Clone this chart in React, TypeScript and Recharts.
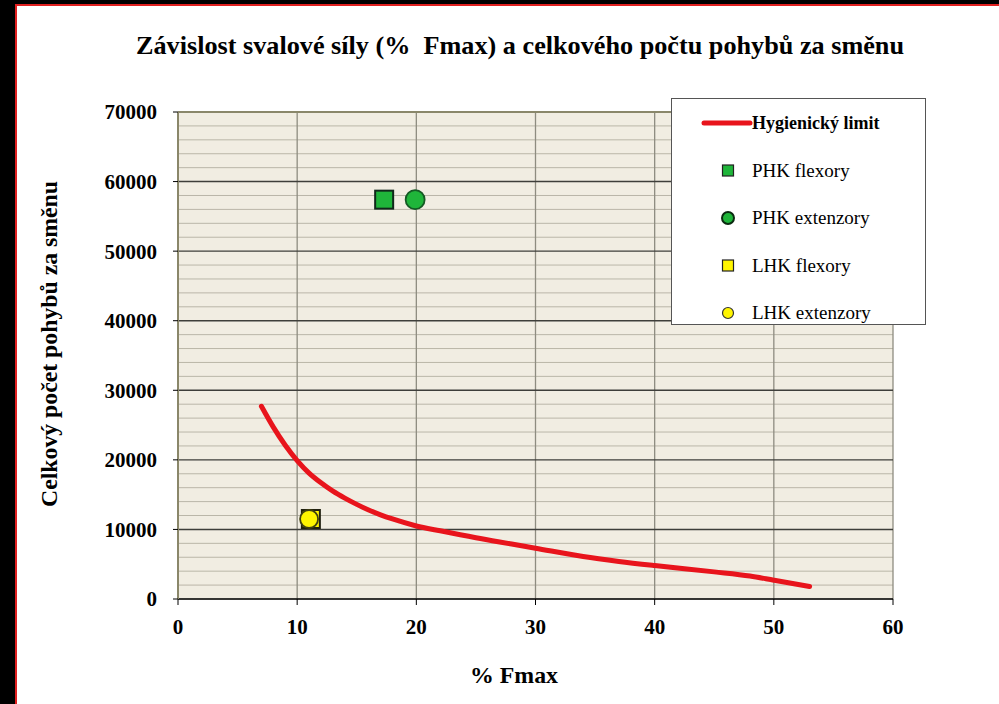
import React from "react";
import {
  ComposedChart,
  Line,
  Scatter,
  XAxis,
  YAxis,
  CartesianGrid,
  ReferenceLine,
} from "recharts";

const chartTitle = "Závislost svalové síly (%  Fmax) a celkového počtu pohybů za směnu";
const xAxisTitle = "% Fmax";
const yAxisTitle = "Celkový počet pohybů za směnu";

const xTicks = [0, 10, 20, 30, 40, 50, 60];
const yTicks = [0, 10000, 20000, 30000, 40000, 50000, 60000, 70000];
const yMinorTicks = [
  2000, 4000, 6000, 8000, 12000, 14000, 16000, 18000, 22000, 24000, 26000, 28000,
  32000, 34000, 36000, 38000, 42000, 44000, 46000, 48000, 52000, 54000, 56000, 58000,
  62000, 64000, 66000, 68000,
];

// Hygienický limit curve
const limitX = [7, 8, 9, 10, 11, 12, 13, 14, 15, 16, 17, 18, 20, 22, 25, 28, 30, 34, 37, 40, 45, 48, 50, 53];
const limitY = [27700, 24700, 22100, 19900, 18100, 16700, 15500, 14500, 13600, 12800, 12100, 11500, 10500, 9800, 8800, 7900, 7300, 6100, 5400, 4800, 3900, 3300, 2700, 1800];

const phkFlexX = [17.3];
const phkFlexY = [57400];
const phkExtX = [19.9];
const phkExtY = [57400];
const lhkFlexX = [11.15];
const lhkFlexY = [11500];
const lhkExtX = [11.0];
const lhkExtY = [11500];

const zip = (xs: number[], ys: number[]) => xs.map((x, i) => ({ x, y: ys[i] }));

const limitData = zip(limitX, limitY);
const phkFlexData = zip(phkFlexX, phkFlexY);
const phkExtData = zip(phkExtX, phkExtY);
const lhkFlexData = zip(lhkFlexX, lhkFlexY);
const lhkExtData = zip(lhkExtX, lhkExtY);

const GREEN = "#1FB53A";
const YELLOW = "#FFF500";
const RED = "#E8141C";
const FONT = "Liberation Serif, DejaVu Serif, Times New Roman, serif";

const squareShape = (fill: string, stroke: string, size: number) => (props: any) => {
  const { cx, cy } = props;
  if (cx == null || cy == null) return <g />;
  return (
    <rect x={cx - size / 2} y={cy - size / 2} width={size} height={size} fill={fill} stroke={stroke} strokeWidth={2} />
  );
};

const circleShape = (fill: string, stroke: string, r: number) => (props: any) => {
  const { cx, cy } = props;
  if (cx == null || cy == null) return <g />;
  return <circle cx={cx} cy={cy} r={r} fill={fill} stroke={stroke} strokeWidth={1.8} />;
};

const legendItems = [
  { name: "Hygienický limit", kind: "line" },
  { name: "PHK flexory", kind: "square", fill: GREEN },
  { name: "PHK extenzory", kind: "circle", fill: GREEN },
  { name: "LHK flexory", kind: "square", fill: YELLOW },
  { name: "LHK extenzory", kind: "circle", fill: YELLOW },
];

export default function App() {
  return (
    <div
      style={{
        position: "absolute",
        left: 0,
        top: 0,
        width: 999,
        height: 704,
        background: "#ffffff",
        overflow: "hidden",
        fontFamily: FONT,
      }}
    >
      {/* frame */}
      <div style={{ position: "absolute", left: 0, top: 0, width: 15, height: 704, background: "#000" }} />
      <div style={{ position: "absolute", left: 15, top: 0, width: 2, height: 704, background: "#E02020" }} />
      <div style={{ position: "absolute", left: 0, top: 0, width: 999, height: 4, background: "#000" }} />
      <div style={{ position: "absolute", left: 15, top: 4, width: 984, height: 2, background: "#E02020" }} />

      <svg width={999} height={80} style={{ position: "absolute", left: 0, top: 0 }}>
        <text
          x={136}
          y={54}
          style={{ fontFamily: FONT, whiteSpace: "pre" }}
          fontWeight="bold"
          fontSize={26}
          textLength={768}
          lengthAdjust="spacingAndGlyphs"
          fill="#000"
        >
          {chartTitle}
        </text>
      </svg>

      <div style={{ position: "absolute", left: 0, top: 0 }}>
        <ComposedChart
          width={999}
          height={704}
          margin={{ top: 112, right: 106, bottom: 65, left: 98 }}
          style={{ fontFamily: FONT }}
        >
          <CartesianGrid fill="#F1EDE2" horizontal={false} vertical={false} />
          {yMinorTicks.map((v) => (
            <ReferenceLine key={"m" + v} y={v} stroke="#BAB6A8" strokeWidth={1} />
          ))}
          {xTicks.map((v) => (
            <ReferenceLine key={"vx" + v} x={v} stroke="#8E8C80" strokeWidth={1.3} />
          ))}
          {yTicks.map((v) => (
            <ReferenceLine key={"M" + v} y={v} stroke="#3E3E3A" strokeWidth={1.4} />
          ))}
          <ReferenceLine y={70000} stroke="#8A876A" strokeWidth={2} />
          <ReferenceLine x={0} stroke="#8A876A" strokeWidth={2} />
          <XAxis
            type="number"
            dataKey="x"
            domain={[0, 60]}
            ticks={xTicks}
            allowDataOverflow
            height={40}
            tickSize={6}
            tickMargin={14}
            axisLine={{ stroke: "#000", strokeWidth: 1.2 }}
            tickLine={{ stroke: "#000" }}
            tick={{ fill: "#000", fontSize: 21, fontWeight: "bold", style: { fontFamily: FONT } }}
          />
          <YAxis
            type="number"
            dataKey="y"
            domain={[0, 70000]}
            ticks={yTicks}
            allowDataOverflow
            width={80}
            tickSize={5}
            tickMargin={16}
            axisLine={{ stroke: "#8A876A", strokeWidth: 2 }}
            tickLine={{ stroke: "#000" }}
            tick={{ fill: "#000", fontSize: 21, fontWeight: "bold", style: { fontFamily: FONT } }}
          />
          <Line
            data={limitData}
            dataKey="y"
            type="monotone"
            stroke={RED}
            strokeWidth={5}
            strokeLinecap="round"
            dot={false}
            activeDot={false}
            isAnimationActive={false}
          />
          <Scatter data={phkFlexData} dataKey="y" shape={squareShape(GREEN, "#10281A", 18)} isAnimationActive={false} />
          <Scatter data={phkExtData} dataKey="y" shape={circleShape(GREEN, "#145A24", 9.5)} isAnimationActive={false} />
          <Scatter data={lhkFlexData} dataKey="y" shape={squareShape(YELLOW, "#202010", 18)} isAnimationActive={false} />
          <Scatter data={lhkExtData} dataKey="y" shape={circleShape(YELLOW, "#404010", 9)} isAnimationActive={false} />
        </ComposedChart>
      </div>

      <svg width={999} height={704} style={{ position: "absolute", left: 0, top: 0, pointerEvents: "none" }}>
        <text
          x={0}
          y={0}
          transform="translate(57,344) rotate(-90)"
          textAnchor="middle"
          style={{ fontFamily: FONT }}
          fontWeight="bold"
          fontSize={23}
          textLength={326}
          lengthAdjust="spacingAndGlyphs"
          fill="#000"
        >
          {yAxisTitle}
        </text>
        <text
          x={514}
          y={683}
          textAnchor="middle"
          style={{ fontFamily: FONT }}
          fontWeight="bold"
          fontSize={23}
          textLength={88}
          lengthAdjust="spacingAndGlyphs"
          fill="#000"
        >
          {xAxisTitle}
        </text>
      </svg>

      {/* legend */}
      <div
        style={{
          position: "absolute",
          left: 671,
          top: 98,
          width: 253,
          height: 225,
          border: "1.5px solid #555",
          background: "#fff",
        }}
      >
        <svg width={253} height={225} style={{ position: "absolute", left: 0, top: 0 }}>
          {legendItems.map((it, i) => {
            const cy = 24 + i * 47.5;
            const cx = 56;
            let sym: React.ReactNode = null;
            if (it.kind === "line") {
              sym = <line x1={32} x2={78} y1={cy} y2={cy} stroke={RED} strokeWidth={5} strokeLinecap="round" />;
            } else if (it.kind === "square") {
              sym = <rect x={cx - 5.5} y={cy - 5.5} width={11} height={11} fill={it.fill} stroke="#222" strokeWidth={1.2} />;
            } else {
              sym = (
                <circle
                  cx={cx}
                  cy={cy}
                  r={it.fill === GREEN ? 6 : 5.5}
                  fill={it.fill}
                  stroke={it.fill === GREEN ? "#0A2A10" : "#333"}
                  strokeWidth={it.fill === GREEN ? 2 : 1.2}
                />
              );
            }
            return (
              <g key={it.name}>
                {sym}
                <text
                  x={80}
                  y={cy + 6}
                  style={{ fontFamily: FONT }}
                  fontSize={it.kind === "line" ? 18 : 19}
                  fontWeight={it.kind === "line" ? "bold" : "normal"}
                  fill="#000"
                >
                  {it.name}
                </text>
              </g>
            );
          })}
        </svg>
      </div>
    </div>
  );
}
